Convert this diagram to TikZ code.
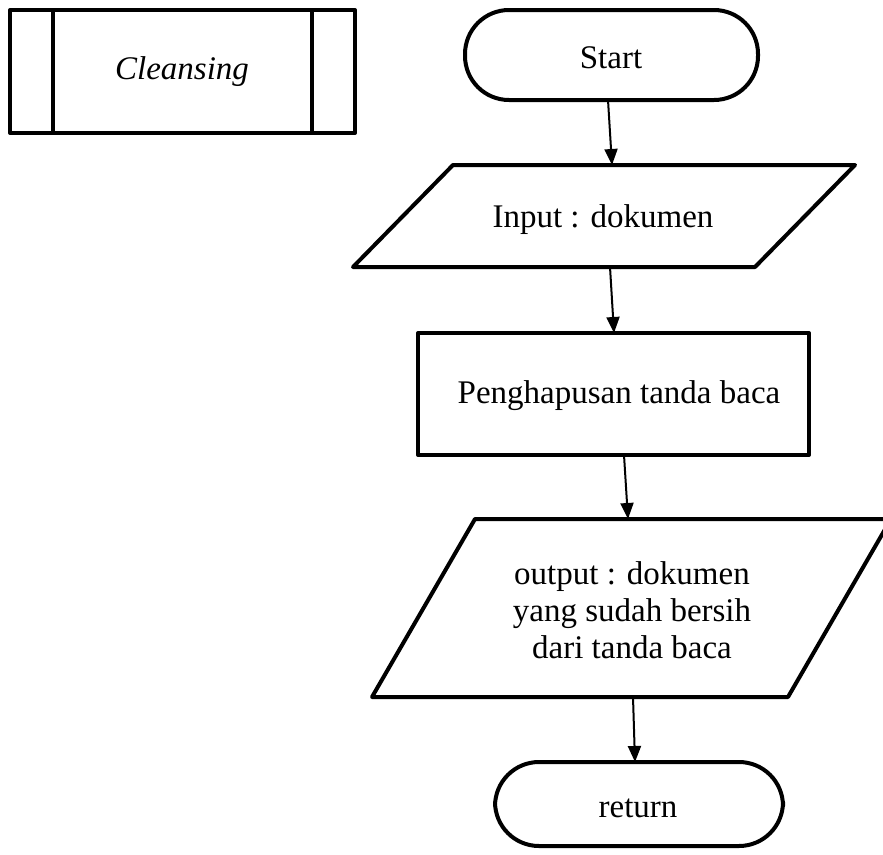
\documentclass[tikz,border=0pt]{standalone}
\usepackage{fontspec}
\setmainfont{Liberation Serif}
\usetikzlibrary{arrows.meta}
\begin{document}
\begin{tikzpicture}[x=1pt,y=-1pt,
  shapeline/.style={line width=4pt, line join=round},
  term/.style={shapeline, draw, rounded corners=44pt},
  arr/.style={line width=2pt, -{Triangle[length=16pt,width=13pt]}},
  txt/.style={font=\fontsize{33}{37}\selectfont, align=center, inner sep=0pt}]
\useasboundingbox (0,0) rectangle (883,854);
\clip (0,0) rectangle (883,854);
% Cleansing predefined process
\draw[shapeline] (10,10) rectangle (355,133);
\draw[shapeline] (53,10) -- (53,133);
\draw[shapeline] (312,10) -- (312,133);
\node[txt, font=\fontsize{33}{37}\selectfont\itshape] (cl) at (182,72) {Cleansing};
% Start
\draw[term] (465,10) rectangle (758,100);
\node[txt] (start) at (611,58) {Start};
\coordinate (startS) at (608,100);
% Input
\draw[shapeline] (453,165) -- (855,165) -- (755,267) -- (353,267) -- cycle;
\node[txt] (inp) at (603,220) {Input : dokumen};
\coordinate (inpN) at (612,165);
\coordinate (inpS) at (610,267);
% Process
\draw[shapeline] (418,333) rectangle (809,455);
\node[txt] (proc) at (619,396) {Penghapusan tanda baca};
\coordinate (procN) at (614,333);
\coordinate (procS) at (624,455);
% Output
\draw[shapeline] (475,519) -- (891,519) -- (788,697) -- (372,697) -- cycle;
\node[txt] (outp) at (632,610) {output : dokumen\\yang sudah bersih\\dari tanda baca};
\coordinate (outN) at (628,519);
\coordinate (outS) at (633,697);
% Return
\draw[term] (495,762) rectangle (783,846);
\node[txt] (ret) at (638,808) {return};
\coordinate (retN) at (635,762);
% arrows
\draw[arr] (startS) -- (inpN);
\draw[arr] (inpS) -- (procN);
\draw[arr] (procS) -- (outN);
\draw[arr] (outS) -- (retN);
\end{tikzpicture}
\end{document}
